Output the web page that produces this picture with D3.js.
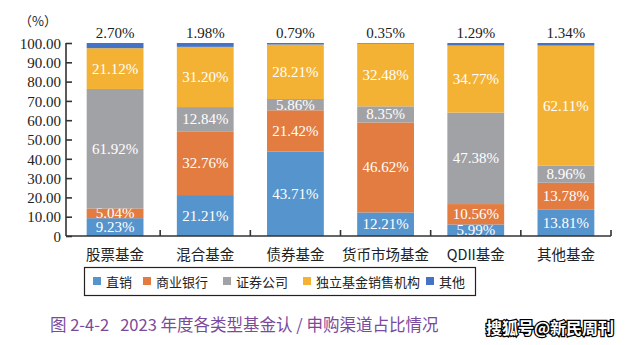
<!DOCTYPE html>
<html><head><meta charset="utf-8">
<script src="https://cdn.jsdelivr.net/npm/d3@7"></script>
<style>body{margin:0;background:#fff}svg{display:block}</style>
</head><body>
<script>
const categories = ["股票基金","混合基金","债券基金","货币市场基金","QDII基金","其他基金"];
const seriesNames = ["直销","商业银行","证券公司","独立基金销售机构","其他"];
const direct = [9.23,21.21,43.71,12.21,5.99,13.81];
const bank = [5.04,32.76,21.42,46.62,10.56,13.78];
const securities = [61.92,12.84,5.86,8.35,47.38,8.96];
const independent = [21.12,31.20,28.21,32.48,34.77,62.11];
const other = [2.70,1.98,0.79,0.35,1.29,1.34];
const yTicks = [0,10,20,30,40,50,60,70,80,90,100];
const colors = ["#5694cd","#e37c40","#a1a2a6","#f4b235","#4472c4"];
const series = [direct,bank,securities,independent,other];

const W=628,H=345;
const svg=d3.select("body").append("svg").attr("width",W).attr("height",H);
const serif="'Liberation Serif','Times New Roman','Noto Sans CJK SC',serif";
const cjk="'Noto Sans CJK SC',sans-serif";

const x=d3.scaleBand().domain(categories).range([70,611]).paddingInner(0.37).paddingOuter(0.185);
const y=d3.scaleLinear().domain([0,100]).range([236,43]);

const rows=categories.map((c,i)=>{const r={cat:c};seriesNames.forEach((s,j)=>r[s]=series[j][i]);return r;});
const stack=d3.stack().keys(seriesNames)(rows);

const g=svg.append("g");
stack.forEach((layer,j)=>{
  g.selectAll(null).data(layer).enter().append("rect")
    .attr("x",d=>x(d.data.cat)).attr("width",x.bandwidth())
    .attr("y",d=>y(Math.min(d[1],100))).attr("height",d=>y(d[0])-y(Math.min(d[1],100)))
    .attr("fill",colors[j]);
  if(j<4){
    g.selectAll(null).data(layer).enter().append("text")
      .attr("x",d=>x(d.data.cat)+x.bandwidth()/2)
      .attr("y",d=>(y(d[0])+y(d[1]))/2+5)
      .attr("text-anchor","middle").attr("fill","#fff")
      .attr("font-family",serif).attr("font-size",15)
      .text(d=>d.data[seriesNames[j]].toFixed(2)+"%");
  }
});
// top labels for 其他
g.selectAll(null).data(rows).enter().append("text")
  .attr("x",d=>x(d.cat)+x.bandwidth()/2).attr("y",38)
  .attr("text-anchor","middle").attr("fill","#222")
  .attr("font-family",serif).attr("font-size",15)
  .text(d=>d["其他"].toFixed(2)+"%");

// y axis
const ya=svg.append("g").attr("transform","translate(66,0)")
  .call(d3.axisRight(y).tickValues(yTicks).tickSize(6).tickFormat(d=>d===0?"0":d.toFixed(2)));
ya.select(".domain").attr("stroke","#333").attr("stroke-width",1.6).attr("d","M0,43V236");
ya.selectAll(".tick line").attr("stroke","#333").attr("stroke-width",1.6);
ya.selectAll(".tick text").attr("x",-5).attr("text-anchor","end").attr("dy","0.35em")
  .attr("font-family",serif).attr("font-size",15).attr("fill","#222");

// x axis
const xa=svg.append("g").attr("transform","translate(0,236)")
  .call(d3.axisBottom(x).tickSize(0));
xa.select(".domain").attr("stroke","#333").attr("stroke-width",1.6).attr("d","M66,0H611");
xa.selectAll(".tick text").attr("y",14).attr("dy","0.71em")
  .attr("font-family",cjk).attr("font-size",14.5).attr("fill","#222");
const step=x.step();
const bounds=categories.map(c=>x(c)+x.bandwidth()/2+step/2);
svg.append("g").selectAll("line").data(bounds).enter().append("line")
  .attr("x1",d=>d).attr("x2",d=>d).attr("y1",236).attr("y2",230)
  .attr("stroke","#333").attr("stroke-width",1.6);

// unit
svg.append("text").attr("x",38).attr("y",26).attr("text-anchor","middle")
  .attr("font-family",cjk).attr("font-size",13).attr("fill","#222").text("（%）");

// legend
svg.append("rect").attr("x",84.5).attr("y",267.5).attr("width",391).attr("height",28)
  .attr("fill","none").attr("stroke","#222").attr("stroke-width",1.2);
const legX=[97,147,227,307,430];
const lg=svg.append("g");
seriesNames.forEach((s,i)=>{
  lg.append("rect").attr("x",legX[i]-4).attr("y",277).attr("width",8).attr("height",8).attr("fill",colors[i]);
  lg.append("text").attr("x",legX[i]+9).attr("y",286.5).attr("font-family",cjk)
    .attr("font-size",13).attr("fill","#222").text(s);
});

// title
svg.append("text").attr("x",50).attr("y",331).attr("font-family",cjk).attr("font-size",16.5)
  .attr("fill","#7b4a9c").style("white-space","pre").text("图 2-4-2   2023 年度各类型基金认 / 申购渠道占比情况");
// watermark
svg.append("text").attr("x",614).attr("y",334).attr("text-anchor","end").attr("font-family",cjk)
  .attr("font-size",16).attr("font-weight","bold").attr("fill","#fff")
  .attr("stroke","#000").attr("stroke-width",2.5).attr("paint-order","stroke").text("搜狐号@新民周刊");
</script>
</body></html>
